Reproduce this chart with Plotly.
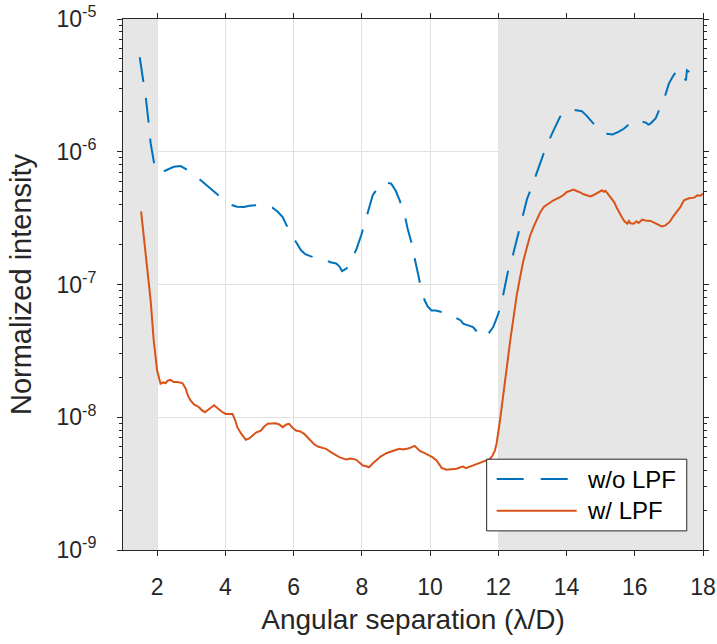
import plotly.graph_objects as go

# ---------------- data ----------------
x_wo = [1.49, 1.61, 1.67, 1.76, 1.81, 1.93, 2.02, 2.23, 2.49, 2.69, 2.88, 3.08, 3.28, 3.52, 3.81,
        4.02, 4.21, 4.34, 4.55, 4.70, 4.89, 5.14, 5.38, 5.52, 5.68, 5.82, 5.93, 6.07, 6.22, 6.34,
        6.51, 6.70, 6.95, 7.08, 7.25, 7.34, 7.42, 7.55, 7.71, 7.85, 7.98, 8.13, 8.23, 8.32, 8.46,
        8.67, 8.86, 8.99, 9.11, 9.26, 9.34, 9.45, 9.55, 9.70, 9.84, 9.93, 10.04, 10.17, 10.28,
        10.46, 10.63, 10.73, 10.82, 10.90, 10.97, 11.11, 11.26, 11.34, 11.41, 11.49, 11.56, 11.71,
        11.85, 11.95, 12.03, 12.15, 12.29, 12.44, 12.59, 12.74, 12.84, 12.98, 13.13, 13.26, 13.40,
        13.60, 13.70, 13.81, 13.93, 14.03, 14.22, 14.45, 14.58, 14.70, 14.81, 14.94, 15.14, 15.35,
        15.52, 15.68, 15.82, 15.92, 16.08, 16.23, 16.34, 16.40, 16.46, 16.61, 16.73, 16.82, 16.91,
        17.00, 17.11, 17.20, 17.26, 17.38, 17.46, 17.50, 17.53, 17.60]
y_wo = [5.15e-6, 3.33e-6, 2.53e-6, 1.58e-6, 1.16e-6, 7.7e-7, 7.0e-7, 7.2e-7, 7.7e-7, 7.8e-7, 7.3e-7,
        6.6e-7, 6.1e-7, 5.4e-7, 4.7e-7, 4.2e-7, 3.95e-7, 3.85e-7, 3.84e-7, 3.92e-7, 3.95e-7, 3.88e-7,
        3.79e-7, 3.56e-7, 3.22e-7, 2.71e-7, 2.39e-7, 2.09e-7, 1.81e-7, 1.69e-7, 1.63e-7, 1.57e-7,
        1.52e-7, 1.47e-7, 1.44e-7, 1.37e-7, 1.26e-7, 1.32e-7, 1.54e-7, 1.87e-7, 2.34e-7, 3.22e-7,
        3.84e-7, 4.7e-7, 5.3e-7, 5.9e-7, 5.75e-7, 5.1e-7, 4.3e-7, 3.32e-7, 2.65e-7, 2.09e-7, 1.57e-7,
        1.04e-7, 7.6e-8, 6.84e-8, 6.38e-8, 6.38e-8, 6.27e-8, 6.05e-8, 5.85e-8, 5.65e-8, 5.5e-8,
        5.36e-8, 5.07e-8, 4.92e-8, 4.78e-8, 4.51e-8, 4.38e-8, 4.67e-8, 4.51e-8, 4.26e-8, 4.78e-8,
        5.55e-8, 6.38e-8, 8.53e-8, 1.28e-7, 1.71e-7, 2.42e-7, 3.42e-7, 4.39e-7, 5.42e-7, 7.03e-7,
        8.77e-7, 1.09e-6, 1.41e-6, 1.61e-6, 1.83e-6, 1.98e-6, 2.05e-6, 2.07e-6, 2.02e-6, 1.88e-6,
        1.73e-6, 1.60e-6, 1.47e-6, 1.37e-6, 1.35e-6, 1.41e-6, 1.49e-6, 1.60e-6, 1.70e-6, 1.73e-6,
        1.68e-6, 1.65e-6, 1.60e-6, 1.63e-6, 1.78e-6, 2.08e-6, 2.40e-6, 2.74e-6, 3.26e-6, 3.67e-6,
        3.99e-6, 4.18e-6, 3.84e-6, 3.58e-6, 3.45e-6, 4.11e-6, 3.99e-6]

x_w = [1.53, 1.66, 1.81, 1.90, 2.00, 2.10, 2.17, 2.25, 2.31, 2.39, 2.49, 2.59, 2.74, 2.84, 2.90,
       2.98, 3.08, 3.23, 3.31, 3.40, 3.52, 3.67, 3.81, 3.90, 4.01, 4.21, 4.29, 4.35, 4.46, 4.60,
       4.70, 4.79, 4.90, 5.04, 5.14, 5.24, 5.48, 5.58, 5.68, 5.79, 5.87, 5.96, 6.07, 6.20, 6.31,
       6.40, 6.51, 6.61, 6.71, 6.82, 6.95, 7.14, 7.34, 7.54, 7.67, 7.83, 7.93, 8.03, 8.11, 8.21,
       8.32, 8.42, 8.55, 8.72, 8.84, 9.01, 9.11, 9.20, 9.31, 9.40, 9.55, 9.61, 9.70, 9.84, 9.99,
       10.08, 10.19, 10.26, 10.34, 10.48, 10.61, 10.78, 10.87, 10.97, 11.05, 11.17, 11.26, 11.36,
       11.46, 11.61, 11.76, 11.83, 11.90, 11.95, 12.00, 12.05, 12.10, 12.17, 12.25, 12.35, 12.44,
       12.54, 12.64, 12.73, 12.84, 12.93, 13.03, 13.13, 13.23, 13.34, 13.47, 13.62, 13.81, 13.90,
       14.01, 14.11, 14.21, 14.31, 14.40, 14.50, 14.58, 14.70, 14.78, 14.89, 14.96, 15.04, 15.09,
       15.14, 15.19, 15.25, 15.33, 15.40, 15.48, 15.58, 15.64, 15.70, 15.78, 15.83, 15.87, 15.97,
       16.05, 16.11, 16.22, 16.31, 16.46, 16.58, 16.71, 16.79, 16.90, 17.02, 17.15, 17.25, 17.34,
       17.44, 17.59, 17.74, 17.84, 17.93, 18.00]
y_w = [3.56e-7, 1.81e-7, 7.59e-8, 3.79e-8, 2.25e-8, 1.79e-8, 1.83e-8, 1.81e-8, 1.89e-8, 1.91e-8,
       1.84e-8, 1.84e-8, 1.81e-8, 1.64e-8, 1.46e-8, 1.34e-8, 1.25e-8, 1.19e-8, 1.13e-8, 1.09e-8,
       1.15e-8, 1.23e-8, 1.15e-8, 1.10e-8, 1.06e-8, 1.06e-8, 9.45e-9, 8.42e-9, 7.55e-9, 6.77e-9,
       6.92e-9, 7.28e-9, 7.67e-9, 7.94e-9, 8.51e-9, 8.92e-9, 9.02e-9, 8.82e-9, 8.42e-9, 8.82e-9,
       8.92e-9, 8.38e-9, 7.94e-9, 7.81e-9, 7.50e-9, 7.10e-9, 6.68e-9, 6.23e-9, 6.02e-9, 5.91e-9,
       5.78e-9, 5.37e-9, 5.00e-9, 4.80e-9, 4.88e-9, 4.80e-9, 4.56e-9, 4.33e-9, 4.29e-9, 4.20e-9,
       4.48e-9, 4.72e-9, 5.06e-9, 5.36e-9, 5.52e-9, 5.69e-9, 5.78e-9, 5.71e-9, 5.78e-9, 5.86e-9,
       6.09e-9, 5.91e-9, 5.58e-9, 5.37e-9, 5.15e-9, 4.98e-9, 4.72e-9, 4.41e-9, 4.16e-9, 4.02e-9,
       4.04e-9, 4.09e-9, 4.18e-9, 4.25e-9, 4.14e-9, 4.25e-9, 4.37e-9, 4.41e-9, 4.52e-9, 4.72e-9,
       4.86e-9, 5.15e-9, 5.61e-9, 6.34e-9, 7.50e-9, 9.45e-9, 1.19e-8, 1.59e-8, 2.38e-8, 3.79e-8,
       5.68e-8, 8.28e-8, 1.14e-7, 1.49e-7, 1.91e-7, 2.32e-7, 2.71e-7, 3.10e-7, 3.50e-7, 3.85e-7,
       4.06e-7, 4.31e-7, 4.56e-7, 4.70e-7, 4.98e-7, 5.12e-7, 5.19e-7, 5.04e-7, 4.95e-7, 4.78e-7,
       4.73e-7, 4.61e-7, 4.70e-7, 4.89e-7, 5.04e-7, 5.12e-7, 4.99e-7, 5.08e-7, 4.89e-7, 4.66e-7,
       4.44e-7, 4.16e-7, 3.75e-7, 3.32e-7, 3.15e-7, 2.99e-7, 2.87e-7, 3.01e-7, 2.89e-7, 2.87e-7,
       2.99e-7, 2.91e-7, 3.08e-7, 3.04e-7, 3.01e-7, 2.91e-7, 2.79e-7, 2.74e-7, 2.79e-7, 2.96e-7,
       3.32e-7, 3.62e-7, 3.84e-7, 4.31e-7, 4.46e-7, 4.51e-7, 4.70e-7, 4.66e-7, 4.86e-7]

shaded_ranges = [(1, 2), (12, 18)]
x_ticks = [2, 4, 6, 8, 10, 12, 14, 16, 18]
y_exponents = [-9, -8, -7, -6, -5]
series_names = ["w/o LPF", "w/ LPF"]

BLUE = "#0072BD"
ORANGE = "#D95319"
AX = "#262626"
FONT = "Liberation Sans, Arial, Helvetica, sans-serif"

y_lo, y_hi = 10.0 ** y_exponents[0], 10.0 ** y_exponents[-1]

# ---------------- figure ----------------
fig = go.Figure()
# shaded regions as filled traces (they hide the grid, lie below the curves)
for a, b in shaded_ranges:
    fig.add_trace(go.Scatter(x=[a, b, b, a, a], y=[y_lo, y_lo, y_hi, y_hi, y_lo],
                             mode="lines", fill="toself", fillcolor="#e6e6e6",
                             line=dict(width=0, color="#e6e6e6"), hoverinfo="skip",
                             showlegend=False))
fig.add_trace(go.Scatter(x=x_wo, y=y_wo, mode="lines", name=series_names[0],
                         line=dict(color=BLUE, width=2, dash="25px,16px"), showlegend=False))
fig.add_trace(go.Scatter(x=x_w, y=y_w, mode="lines", name=series_names[1],
                         line=dict(color=ORANGE, width=2), showlegend=False))

# custom legend (MATLAB style)
shapes = []
lx0, lx1, ly0, ly1 = 0.627, 0.972, 0.036, 0.171
shapes.append(dict(type="rect", xref="paper", yref="paper", x0=lx0, x1=lx1, y0=ly0, y1=ly1,
                   fillcolor="white", line=dict(color=AX, width=1), layer="above"))
leg_rows = [0.1337, 0.0740]
shapes.append(dict(type="line", xref="paper", yref="paper", x0=0.6443, x1=0.7822,
                   y0=leg_rows[0], y1=leg_rows[0], line=dict(color=BLUE, width=2, dash="27px,17px"),
                   layer="above"))
shapes.append(dict(type="line", xref="paper", yref="paper", x0=0.6443, x1=0.7822,
                   y0=leg_rows[1], y1=leg_rows[1], line=dict(color=ORANGE, width=2), layer="above"))
annotations = []
for name, yy in zip(series_names, leg_rows):
    annotations.append(dict(text=name, xref="paper", yref="paper", x=0.7966, y=yy,
                            xanchor="left", yanchor="middle", showarrow=False,
                            font=dict(family=FONT, size=24, color="black")))

minor_vals = [k * 10.0 ** e for e in range(-9, -5) for k in range(2, 10)]

fig.update_layout(
    width=717, height=644,
    margin=dict(l=123, r=14, t=19, b=94),
    paper_bgcolor="white", plot_bgcolor="white",
    font=dict(family=FONT, color=AX),
    shapes=shapes, annotations=annotations,
    showlegend=False,
    xaxis=dict(
        range=[1, 18], tickvals=x_ticks, ticktext=[str(t) for t in x_ticks],
        automargin=False,
        showgrid=True, gridcolor="#e1e1e1", gridwidth=1, zeroline=False,
        showline=True, linecolor=AX, linewidth=1, mirror="ticks",
        ticks="outside", ticklen=5, tickcolor=AX, tickwidth=1,
        tickfont=dict(family=FONT, size=23, color=AX), ticklabelstandoff=11,
        title=dict(text="Angular separation (λ/D)", font=dict(family=FONT, size=28, color=AX),
                   standoff=10),
    ),
    yaxis=dict(
        type="log", range=[-9, -5],
        automargin=False,
        tickvals=[10.0 ** e for e in y_exponents],
        ticktext=["10<sup>%d</sup>" % e for e in y_exponents],
        showgrid=True, gridcolor="#e1e1e1", gridwidth=1, zeroline=False,
        showline=True, linecolor=AX, linewidth=1, mirror="ticks",
        ticks="outside", ticklen=5, tickcolor=AX, tickwidth=1,
        tickfont=dict(family=FONT, size=23, color=AX), ticklabelstandoff=16,
        minor=dict(tickvals=minor_vals, ticks="outside", ticklen=3, tickcolor=AX, showgrid=False),
        title=dict(text="Normalized intensity", font=dict(family=FONT, size=29, color=AX),
                   standoff=16),
    ),
)

fig.write_html("out.html")
